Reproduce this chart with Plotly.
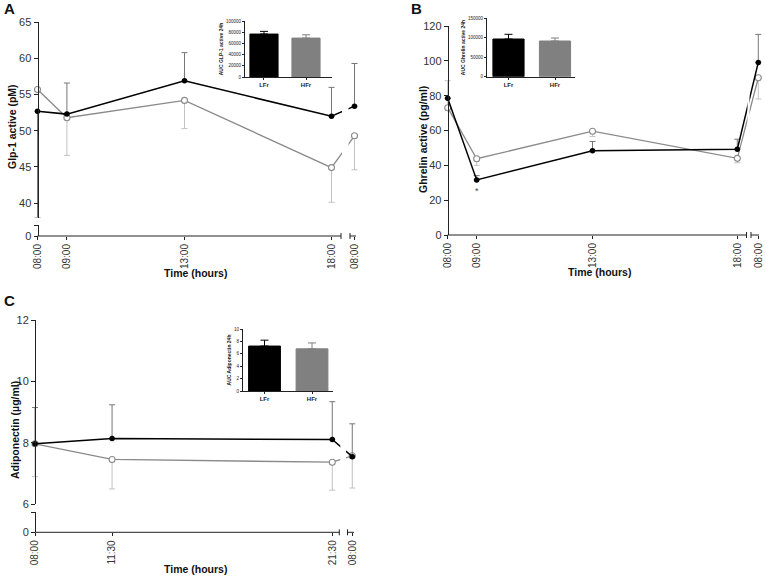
import plotly.graph_objects as go

W, H = 765, 577
FONT = "Arial, 'Liberation Sans', sans-serif"

GROUPS = ["LFr", "HFr"]

# A - active GLP-1 (pM)
GLP_TIMES = ["08:00", "09:00", "13:00", "18:00", "08:00"]
GLP_HOURS = [8, 9, 13, 18]
GLP_LFR = [52.7, 52.3, 56.9, 52.0, 53.4]
GLP_LFR_UP = [0, 4.3, 3.9, 4.0, 5.9]
GLP_LFR_DN = [14.7, 0, 0, 0, 0]
GLP_HFR = [55.7, 51.8, 54.2, 44.9, 49.3]
GLP_HFR_UP = [0, 0, 0, 0, 0]
GLP_HFR_DN = [0, 5.2, 3.9, 4.8, 4.7]
GLP_AUC = [76700, 69500]
GLP_AUC_SEM = [4800, 5900]

# B - active ghrelin (pg/ml)
GHR_TIMES = ["08:00", "09:00", "13:00", "18:00", "08:00"]
GHR_HOURS = [8, 9, 13, 18]
GHR_LFR = [78.5, 31.6, 48.4, 49.3, 99.1]
GHR_LFR_UP = [0, 2.5, 5.3, 5.7, 16.1]
GHR_LFR_DN = [0, 0, 0, 0, 0]
GHR_HFR = [73.1, 43.8, 59.6, 44.0, 90.3]
GHR_HFR_UP = [15.5, 0, 0, 0, 0]
GHR_HFR_DN = [0, 3.8, 3.0, 2.5, 12.2]
GHR_AUC = [96800, 91700]
GHR_AUC_SEM = [12100, 7700]

# C - adiponectin (ug/ml)
ADI_TIMES = ["08:00", "11:30", "21:30", "08:00"]
ADI_HOURS = [8, 11.5, 21.5]
ADI_LFR = [7.97, 8.14, 8.11, 7.55]
ADI_LFR_UP = [1.18, 1.10, 1.23, 1.07]
ADI_LFR_DN = [0, 0, 0, 0]
ADI_HFR = [7.97, 7.46, 7.37, 7.58]
ADI_HFR_UP = [0, 0, 0, 0]
ADI_HFR_DN = [1.07, 0.96, 0.91, 1.05]
ADI_AUC = [7.25, 6.8]
ADI_AUC_SEM = [0.95, 0.95]

BLACK = "#000000"
GREY = "#8a8a8a"
AXIS = "#222222"


def fx(p):
    return p / W


def fy(p):
    return 1 - p / H


def ref(axis, n):
    return axis if n == 1 else f"{axis}{n}"


fig = go.Figure()
layout = {}
shapes = []
annotations = []


def add_panel(n, ystub, times, hours, lfr, lfr_up, lfr_dn, hfr, hfr_up, hfr_dn, g):
    """Time course with broken x axis (and optional broken y axis)."""
    xr, yr = ref("x", n), ref("y", n)
    pph = g["pph"]

    def h(px):  # pixel -> hour on this panel
        return 8 + (px - g["x0"]) / pph

    xs = hours + [hours[-1] + g["gap_px"] / pph]

    fig.add_trace(go.Scatter(
        x=xs, y=hfr, mode="lines+markers", xaxis=xr, yaxis=yr, showlegend=False,
        line=dict(color=GREY, width=1.3), cliponaxis=False,
        marker=dict(size=6, color="white", line=dict(color=GREY, width=1.1)),
        error_y=dict(type="data", symmetric=False, array=hfr_up, arrayminus=hfr_dn,
                     color="#c2c2c2", thickness=1, width=3),
    ))
    fig.add_trace(go.Scatter(
        x=xs, y=lfr, mode="lines+markers", xaxis=xr, yaxis=yr, showlegend=False,
        line=dict(color=BLACK, width=1.5), cliponaxis=False,
        marker=dict(size=5.5, color=BLACK),
        error_y=dict(type="data", symmetric=False, array=lfr_up, arrayminus=lfr_dn,
                     color="#777777", thickness=1, width=3),
    ))

    layout[f"xaxis{n}"] = dict(
        domain=[fx(g["left"]), fx(g["right"])], range=[h(g["left"]), h(g["right"])],
        anchor="free", position=fy(g["axis_y"]), showline=False, showgrid=False,
        zeroline=False, ticks="outside", ticklen=3, tickcolor=AXIS, automargin=False,
        tickmode="array", tickvals=xs, ticktext=times, tickangle=-90,
        tickfont=dict(size=10, color="#333333"),
    )
    layout[f"yaxis{n}"] = dict(
        domain=[fy(g["y_px"][0]), fy(g["y_px"][1])], range=g["y_rng"],
        anchor="free", position=fx(g["x0"]), showline=True, linecolor=AXIS,
        linewidth=1, showgrid=False, zeroline=False, ticks="outside", ticklen=4,
        tickcolor=AXIS, tickmode="array", tickvals=g["yticks"], automargin=False,
        tickfont=dict(size=11, color="#333333"),
    )
    if ystub:
        fig.add_trace(go.Scatter(x=[], y=[], xaxis=xr, yaxis=ref("y", ystub), showlegend=False))
        layout[f"yaxis{ystub}"] = dict(
            domain=[fy(g["stub"][0]), fy(g["stub"][1])], range=[0, 1],
            anchor="free", position=fx(g["x0"]), showline=True, linecolor=AXIS,
            linewidth=1, showgrid=False, zeroline=False, ticks="outside", ticklen=4,
            tickcolor=AXIS, tickmode="array", tickvals=[0, 1], ticktext=["0", ""],
            automargin=False, tickfont=dict(size=11, color="#333333"),
        )

    # gap in the series lines across the axis break
    shapes.append(dict(type="rect", xref=xr, yref=f"{yr} domain",
                       x0=h(g["seg1"] + 1), x1=h(g["seg2"][0] - 1.5), y0=0, y1=1,
                       fillcolor="white", line=dict(width=0), layer="above"))
    # broken x axis line
    ay = fy(g["axis_y"])
    cap = 3 / H
    for a, b in [(g["x0"], g["seg1"]), g["seg2"]]:
        shapes.append(dict(type="line", xref=xr, yref="paper", x0=h(a), x1=h(b),
                           y0=ay, y1=ay, line=dict(color=AXIS, width=1)))
    for p in [g["seg1"], g["seg2"][0]]:
        shapes.append(dict(type="line", xref=xr, yref="paper", x0=h(p), x1=h(p),
                           y0=ay - cap, y1=ay + cap, line=dict(color=AXIS, width=1)))


def add_inset(n, auc, sem, title, g):
    xr, yr = ref("x", n), ref("y", n)
    for grp, val, err, col in zip(GROUPS, auc, sem, [BLACK, "#808080"]):
        fig.add_trace(go.Bar(
            x=[grp], y=[val], xaxis=xr, yaxis=yr, width=0.67, showlegend=False,
            marker=dict(color=col, line=dict(color=col, width=1)),
            error_y=dict(type="data", symmetric=False, array=[err], arrayminus=[0],
                         color=col, thickness=1, width=4),
        ))
    layout[f"xaxis{n}"] = dict(
        domain=[fx(g["x"][0]), fx(g["x"][1])], range=g["xr"], anchor=yr,
        type="category", showline=True, linecolor=AXIS, linewidth=1, showgrid=False,
        ticks="outside", ticklen=2, tickcolor=AXIS, tickmode="array", tickvals=GROUPS,
        ticktext=[f"<b>{s}</b>" for s in GROUPS], tickfont=dict(size=6, color="#222"),
        automargin=False,
    )
    layout[f"yaxis{n}"] = dict(
        domain=[fy(g["y"][0]), fy(g["y"][1])], range=[0, g["top"]], anchor=xr,
        showline=True, linecolor=AXIS, linewidth=1, showgrid=False, zeroline=False,
        ticks="outside", ticklen=2, tickcolor=AXIS, tickmode="array", automargin=False,
        tickvals=g["yticks"], tickformat="d", tickfont=dict(size=4.5, color="#222"),
        title=dict(text=f"<b>{title}</b>", font=dict(size=5, color="#222"), standoff=2),
    )


add_panel(1, 2, GLP_TIMES, GLP_HOURS, GLP_LFR, GLP_LFR_UP, GLP_LFR_DN,
          GLP_HFR, GLP_HFR_UP, GLP_HFR_DN,
          dict(x0=37.5, pph=29.4, gap_px=23, axis_y=236, left=22, right=366,
               seg1=341, seg2=(350, 356), y_rng=[38, 65], y_px=(217.5, 22.3),
               yticks=[40, 45, 50, 55, 60, 65], stub=(236, 225)))
add_panel(3, None, GHR_TIMES, GHR_HOURS, GHR_LFR, GHR_LFR_UP, GHR_LFR_DN,
          GHR_HFR, GHR_HFR_UP, GHR_HFR_DN,
          dict(x0=447.7, pph=28.96, gap_px=21, axis_y=235, left=432, right=765,
               seg1=746.5, seg2=(751, 759), y_rng=[0, 120], y_px=(235, 26),
               yticks=[0, 20, 40, 60, 80, 100, 120]))
add_panel(4, 5, ADI_TIMES, ADI_HOURS, ADI_LFR, ADI_LFR_UP, ADI_LFR_DN,
          ADI_HFR, ADI_HFR_UP, ADI_HFR_DN,
          dict(x0=35, pph=22.02, gap_px=20, axis_y=532.3, left=20, right=366,
               seg1=339.3, seg2=(347.5, 354), y_rng=[6, 12], y_px=(504.3, 320),
               yticks=[6, 8, 10, 12], stub=(532.3, 512.3)))

add_inset(6, GLP_AUC, GLP_AUC_SEM, "AUC GLP-1 active 24h",
          dict(x=(245, 332), y=(77, 21), xr=[-0.452, 1.619], top=100000,
               yticks=[0, 20000, 40000, 60000, 80000, 100000]))
add_inset(7, GHR_AUC, GHR_AUC_SEM, "AUC Ghrelin active 24h",
          dict(x=(487, 575), y=(76.7, 18.3), xr=[-0.462, 1.43], top=150000,
               yticks=[0, 50000, 100000, 150000]))
add_inset(8, ADI_AUC, ADI_AUC_SEM, "AUC Adiponectin 24h",
          dict(x=(243, 333), y=(391, 329), xr=[-0.453, 1.442], top=10,
               yticks=[0, 2, 4, 6, 8, 10]))

# titles and panel letters
for text, x, y, size, angle in [
    ("A", 9, 9, 15, 0), ("B", 417, 9, 15, 0), ("C", 9, 300, 15, 0),
    ("Glp-1 active (pM)", 12, 127, 10.5, -90),
    ("Ghrelin active (pg/ml)", 423, 140, 10.5, -90),
    ("Adiponectin (µg/ml)", 15, 430, 10.5, -90),
    ("Time (hours)", 196, 273, 10.5, 0),
    ("Time (hours)", 599, 272, 10.5, 0),
    ("Time (hours)", 195, 569, 10.5, 0),
]:
    annotations.append(dict(text=f"<b>{text}</b>", x=fx(x), y=fy(y), xref="paper",
                            yref="paper", showarrow=False, textangle=angle,
                            font=dict(size=size, color="#111"),
                            xanchor="center", yanchor="middle"))
annotations.append(dict(text="*", x=GHR_HOURS[1], y=25, xref="x3", yref="y3",
                        showarrow=False, font=dict(size=9, color="#444")))

fig.update_layout(
    width=W, height=H, margin=dict(l=0, r=0, t=0, b=0, autoexpand=False),
    paper_bgcolor="white", plot_bgcolor="rgba(0,0,0,0)",
    font=dict(family=FONT, color="#222"), barmode="overlay",
    shapes=shapes, annotations=annotations, **layout,
)

# pin the figure to the page corner so the default body margin does not shift it
pin = ("document.documentElement.style.overflow='hidden';"
       "document.body.style.margin='0';document.body.style.overflow='hidden';"
       "var d=document.getElementById('{plot_id}');"
       "d.style.position='absolute';d.style.left='0';d.style.top='0';")
fig.write_html("out.html", config={"displayModeBar": False}, post_script=pin)
